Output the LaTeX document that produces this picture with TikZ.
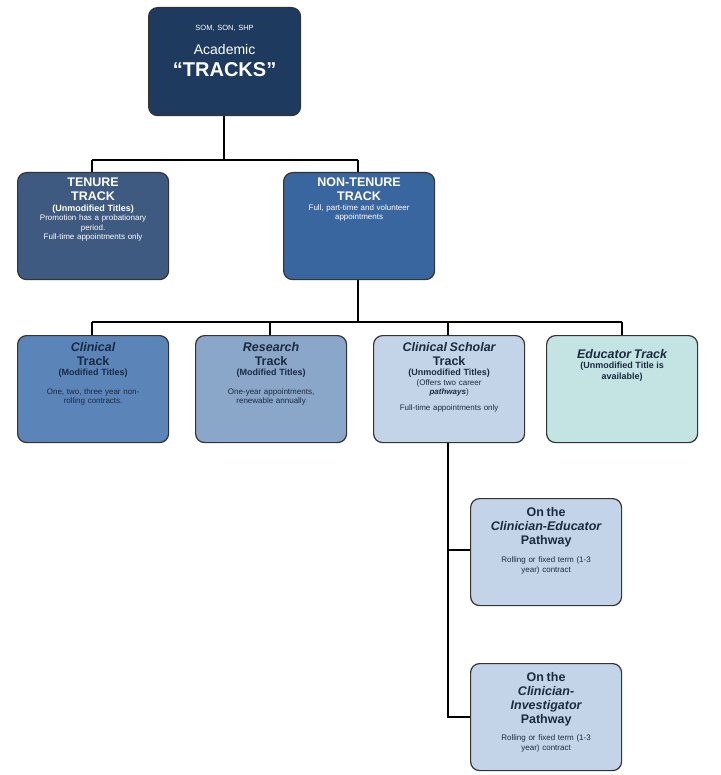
\documentclass[tikz,border=0pt]{standalone}
\usepackage{fontspec}
\setmainfont{Liberation Sans}
\newcommand\ttlf{\fontsize{12.5}{14}\selectfont\bfseries}
\newcommand\subf{\fontsize{9}{10.5}\selectfont\bfseries}
\begin{document}
\begin{tikzpicture}[x=1pt,y=-1pt,
 box/.style={draw=black!80,line width=1.2pt,rounded corners=9pt,minimum width=151pt,minimum height=107pt,anchor=north west,inner sep=0},
 txt/.style={anchor=north,align=center,text width=146pt,inner sep=0,font=\fontsize{8}{9.5}\selectfont},
 wire/.style={line width=2pt,black}]
\definecolor{c0}{HTML}{1F3A5F}\definecolor{c1}{HTML}{3F5A80}\definecolor{c2}{HTML}{3A66A0}
\definecolor{c3}{HTML}{5B85B8}\definecolor{c4}{HTML}{8AA6C8}\definecolor{c5}{HTML}{C4D4E8}
\definecolor{c6}{HTML}{C4E4E4}\definecolor{ink}{HTML}{1A2A40}
\useasboundingbox (0,0) rectangle (720,775);
\fill[white] (0,0) rectangle (720,775);
% wires
\coordinate (h1l) at (92,160);\coordinate (h1r) at (358,160);
\coordinate (h2l) at (92,322);\coordinate (h2r) at (622,322);
\draw[wire] (224,115) -- (224,160);
\draw[wire] (h1l) -- (h1r);
\draw[wire] (h1l) -- (92,172); \draw[wire] (h1r) -- (358,172);
\draw[wire] (358,278) -- (358,322);
\draw[wire] (h2l) -- (h2r);
\foreach \x in {92,270,448,622} \draw[wire] (\x,322) -- (\x,335);
\draw[wire] (448,442) -- (448,717) -- (470,717);
\draw[wire] (448,550) -- (470,550);
% boxes
\node[box,fill=c0,minimum width=152pt,minimum height=108pt] (top) at (148,7) {};
\node[txt,text=white] (topt) at ([yshift=-18pt]top.north) {{\fontsize{7.5}{9}\selectfont SOM, SON, SHP\par}\vspace{8pt}{\fontsize{14}{16}\selectfont Academic\par}{\fontsize{20}{22}\selectfont\bfseries “TRACKS”\par}};
\node[box,fill=c1] (ten) at (17,172) {};
\node[txt,text=white] (tent) at ([yshift=-6pt]ten.north) {{\ttlf TENURE\\TRACK\par}{\subf (Unmodified Titles)\par}Promotion has a probationary\\period.\\Full-time appointments only};
\node[box,fill=c2] (non) at (283,172) {};
\node[txt,text=white] (nont) at ([yshift=-6pt]non.north) {{\ttlf NON-TENURE\\TRACK\par}Full, part-time and volunteer\\appointments};
\node[box,fill=c3] (cli) at (17,335) {};
\node[txt,text=ink] (clit) at ([yshift=-7pt]cli.north) {{\ttlf\itshape Clinical\par}{\ttlf Track\par}{\subf (Modified Titles)\par}\vspace{9pt}One, two, three year non-\\rolling contracts.};
\node[box,fill=c4] (res) at (195,335) {};
\node[txt,text=ink] (rest) at ([yshift=-7pt]res.north) {{\ttlf\itshape Research\par}{\ttlf Track\par}{\subf (Modified Titles)\par}\vspace{9pt}One-year appointments,\\renewable annually};
\node[box,fill=c5] (csc) at (373,335) {};
\node[txt,text=ink] (csct) at ([yshift=-7pt]csc.north) {{\ttlf\itshape Clinical Scholar\par}{\ttlf Track\par}{\subf (Unmodified Titles)\par}(Offers two career\\\textbf{\textit{pathways}})\par\vspace{6pt}Full-time appointments only};
\node[box,fill=c6] (edu) at (546,335) {};
\node[txt,text=ink] (edut) at ([yshift=-14pt]edu.north) {{\ttlf\itshape Educator Track\par}{\subf (Unmodified Title is\\available)\par}};
\node[box,fill=c5] (ce) at (470,498) {};
\node[txt,text=ink] (cet) at ([yshift=-9pt]ce.north) {{\ttlf On the\par}{\ttlf\itshape Clinician-Educator\par}{\ttlf Pathway\par}\vspace{9pt}Rolling or fixed term (1-3\\year) contract};
\node[box,fill=c5] (ci) at (470,663) {};
\node[txt,text=ink] (cit) at ([yshift=-9pt]ci.north) {{\ttlf On the\par}{\ttlf\itshape Clinician-\\Investigator\par}{\ttlf Pathway\par}\vspace{8pt}Rolling or fixed term (1-3\\year) contract};
\end{tikzpicture}
\end{document}
